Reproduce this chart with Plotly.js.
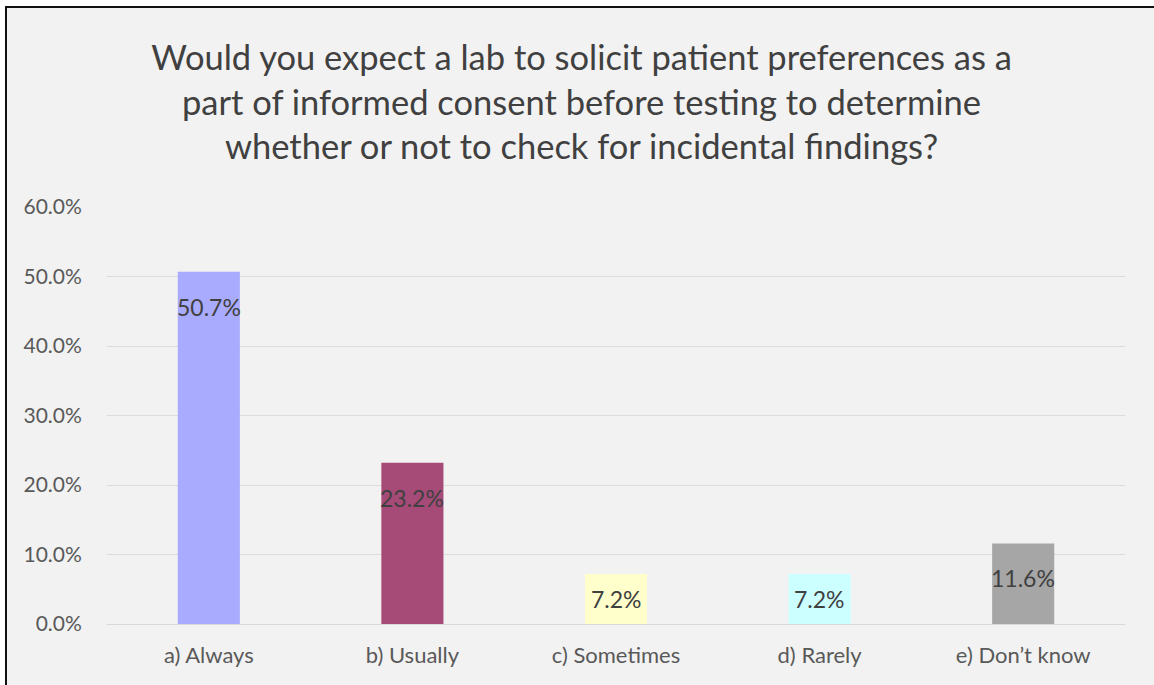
<!DOCTYPE html>
<html>
<head>
<meta charset="utf-8">
<script src="https://cdn.plot.ly/plotly-3.0.1.min.js"></script>
<style>
  html, body { margin: 0; padding: 0; background: #ffffff; width: 1154px; height: 685px; overflow: hidden; }
  #frame { position: absolute; left: 5px; top: 6px; width: 1149px; height: 679px; background: #f2f2f2;
           border-left: 2px solid #111; border-top: 2px solid #111; }
  #chart { position: absolute; left: 0; top: 0; width: 1149px; height: 679px; }
</style>
</head>
<body>
<div id="frame"><div id="chart"></div></div>
<script>
const categories = ["a) Always", "b) Usually", "c) Sometimes", "d) Rarely", "e) Don\u2019t know"];
const values = [0.507, 0.232, 0.072, 0.072, 0.116];
const labels = ["50.7%", "23.2%", "7.2%", "7.2%", "11.6%"];
const colors = ["#a9abff", "#a64a78", "#ffffcc", "#ccffff", "#a6a6a6"];
const yTicks = [0, 0.1, 0.2, 0.3, 0.4, 0.5, 0.6];
const yTickText = ["0.0%", "10.0%", "20.0%", "30.0%", "40.0%", "50.0%", "60.0%"];
const titleText = "Would you expect a lab to solicit patient preferences as a<br>part of informed consent before testing to determine<br>whether or not to check for incidental findings?";

const W = 1149, H = 679;
const margin = {l: 100, r: 31, t: 199, b: 63};
const yRange = [0, 0.6];
const plotH = H - margin.t - margin.b;
const font = "Lato, 'Open Sans', sans-serif";

const annotations = values.map((v, i) => {
  const barPx = v / (yRange[1] - yRange[0]) * plotH;
  return {
    x: categories[i], y: v, xref: 'x', yref: 'y',
    text: labels[i], showarrow: false,
    yanchor: 'middle', xanchor: 'center',
    yshift: -Math.min(35, barPx / 2),
    font: {family: font, size: 23, color: '#404040'}
  };
});

const trace = {
  type: 'bar', x: categories, y: values,
  marker: {color: colors, line: {width: 0}},
  hoverinfo: 'none'
};

const layout = {
  width: W, height: H,
  paper_bgcolor: '#f2f2f2', plot_bgcolor: '#f2f2f2',
  margin: margin,
  bargap: 0.695,
  showlegend: false,
  title: {
    text: titleText,
    font: {family: font, size: 34.5, color: '#404040'},
    x: 0.5, xanchor: 'center', xref: 'container',
    y: 0.909, yanchor: 'top', yref: 'container'
  },
  xaxis: {
    type: 'category', showgrid: false, zeroline: false, showline: false,
    ticks: 'outside', ticklen: 12, tickcolor: 'rgba(0,0,0,0)',
    tickfont: {family: font, size: 22, color: '#595959'}
  },
  yaxis: {
    range: yRange, tickvals: yTicks, ticktext: yTickText,
    showgrid: true, gridcolor: '#dcdcdc', gridwidth: 1,
    zeroline: true, zerolinecolor: '#d9d9d9', zerolinewidth: 1, showline: false,
    ticks: 'outside', ticklen: 20, tickcolor: 'rgba(0,0,0,0)',
    tickfont: {family: font, size: 21, color: '#595959'}
  },
  annotations: annotations
};

Plotly.newPlot('chart', [trace], layout, {displayModeBar: false, staticPlot: true});
</script>
</body>
</html>
